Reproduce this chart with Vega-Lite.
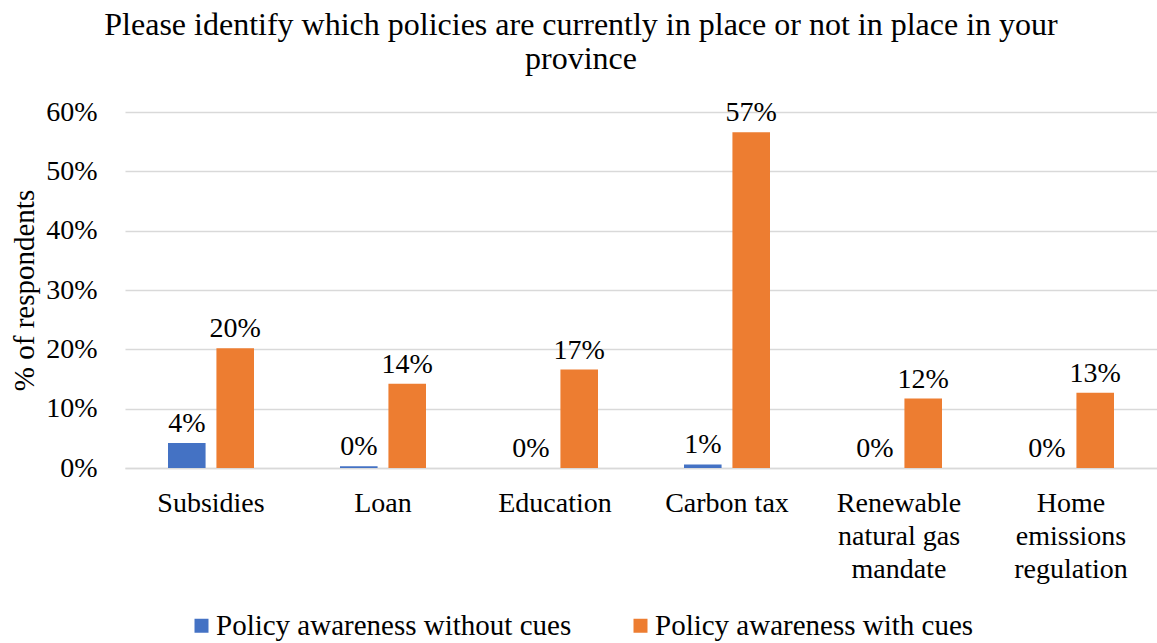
{
  "$schema": "https://vega.github.io/schema/vega-lite/v6.json",
  "width": 1032,
  "height": 356,
  "autosize": "none",
  "padding": {"left": 125, "top": 112, "right": 0, "bottom": 175},
  "background": "white",
  "config": {"view": {"stroke": null}},
  "title": {
    "text": ["Please identify which policies are currently in place or not in place in your", "province"],
    "font": "Times New Roman, Liberation Serif, serif",
    "fontSize": 32,
    "fontWeight": "normal",
    "color": "#000000",
    "lineHeight": 34,
    "anchor": "middle",
    "dx": -60,
    "offset": 22
  },
  "data": {
    "values": [
      {"policy": "Subsidies", "series": "Policy awareness without cues", "value": 0.042},
      {"policy": "Subsidies", "series": "Policy awareness with cues", "value": 0.202},
      {"policy": "Loan", "series": "Policy awareness without cues", "value": 0.003},
      {"policy": "Loan", "series": "Policy awareness with cues", "value": 0.142},
      {"policy": "Education", "series": "Policy awareness without cues", "value": 0.0},
      {"policy": "Education", "series": "Policy awareness with cues", "value": 0.166},
      {"policy": "Carbon tax", "series": "Policy awareness without cues", "value": 0.006},
      {"policy": "Carbon tax", "series": "Policy awareness with cues", "value": 0.566},
      {"policy": "Renewable natural gas mandate", "series": "Policy awareness without cues", "value": 0.0},
      {"policy": "Renewable natural gas mandate", "series": "Policy awareness with cues", "value": 0.117},
      {"policy": "Home emissions regulation", "series": "Policy awareness without cues", "value": 0.0},
      {"policy": "Home emissions regulation", "series": "Policy awareness with cues", "value": 0.127}
    ]
  },
  "encoding": {
    "x": {
      "field": "policy",
      "type": "nominal",
      "sort": null,
      "scale": {"paddingInner": 0.5, "paddingOuter": 0.25},
      "axis": {
        "title": null,
        "labelAngle": 0,
        "labelFont": "Times New Roman, Liberation Serif, serif",
        "labelFontSize": 28,
        "labelColor": "#000000",
        "labelBaseline": "top",
        "labelPadding": 21,
        "labelLineHeight": 33,
        "labelLimit": 300,
        "ticks": false,
        "domain": true,
        "domainColor": "#d9d9d9",
        "domainWidth": 1.5,
        "labelExpr": "datum.value == 'Renewable natural gas mandate' ? ['Renewable', 'natural gas', 'mandate'] : datum.value == 'Home emissions regulation' ? ['Home', 'emissions', 'regulation'] : datum.value"
      }
    },
    "xOffset": {
      "field": "series",
      "type": "nominal",
      "sort": ["Policy awareness without cues", "Policy awareness with cues"],
      "scale": {"paddingInner": 0.224, "paddingOuter": 0}
    },
    "y": {
      "field": "value",
      "type": "quantitative",
      "scale": {"domain": [0, 0.6]},
      "axis": {
        "title": "% of respondents",
        "titleFont": "Times New Roman, Liberation Serif, serif",
        "titleFontSize": 29,
        "titleFontWeight": "normal",
        "titleColor": "#000000",
        "titlePadding": 6,
        "format": ".0%",
        "values": [0, 0.1, 0.2, 0.3, 0.4, 0.5, 0.6],
        "labelFont": "Times New Roman, Liberation Serif, serif",
        "labelFontSize": 28,
        "labelColor": "#000000",
        "labelPadding": 28,
        "ticks": false,
        "domain": false,
        "grid": true,
        "gridColor": "#d9d9d9",
        "gridWidth": 1.5
      }
    }
  },
  "layer": [
    {
      "mark": {"type": "bar"},
      "encoding": {
        "color": {
          "field": "series",
          "type": "nominal",
          "sort": ["Policy awareness without cues", "Policy awareness with cues"],
          "scale": {"domain": ["Policy awareness without cues", "Policy awareness with cues"], "range": ["#4472c4", "#ed7d31"]},
          "legend": {
            "title": null,
            "orient": "none",
            "direction": "horizontal",
            "legendX": 62,
            "legendY": 499,
            "symbolType": "square",
            "symbolSize": 196,
            "symbolStrokeWidth": 0,
            "labelFont": "Times New Roman, Liberation Serif, serif",
            "labelFontSize": 29,
            "labelColor": "#000000",
            "labelOffset": 0,
            "labelLimit": 400,
            "columnPadding": 54
          }
        }
      }
    },
    {
      "mark": {"type": "text", "font": "Times New Roman, Liberation Serif, serif", "fontSize": 28, "color": "#000000", "baseline": "alphabetic", "dy": -11},
      "encoding": {
        "text": {"field": "value", "type": "quantitative", "format": ".0%"}
      }
    }
  ]
}
